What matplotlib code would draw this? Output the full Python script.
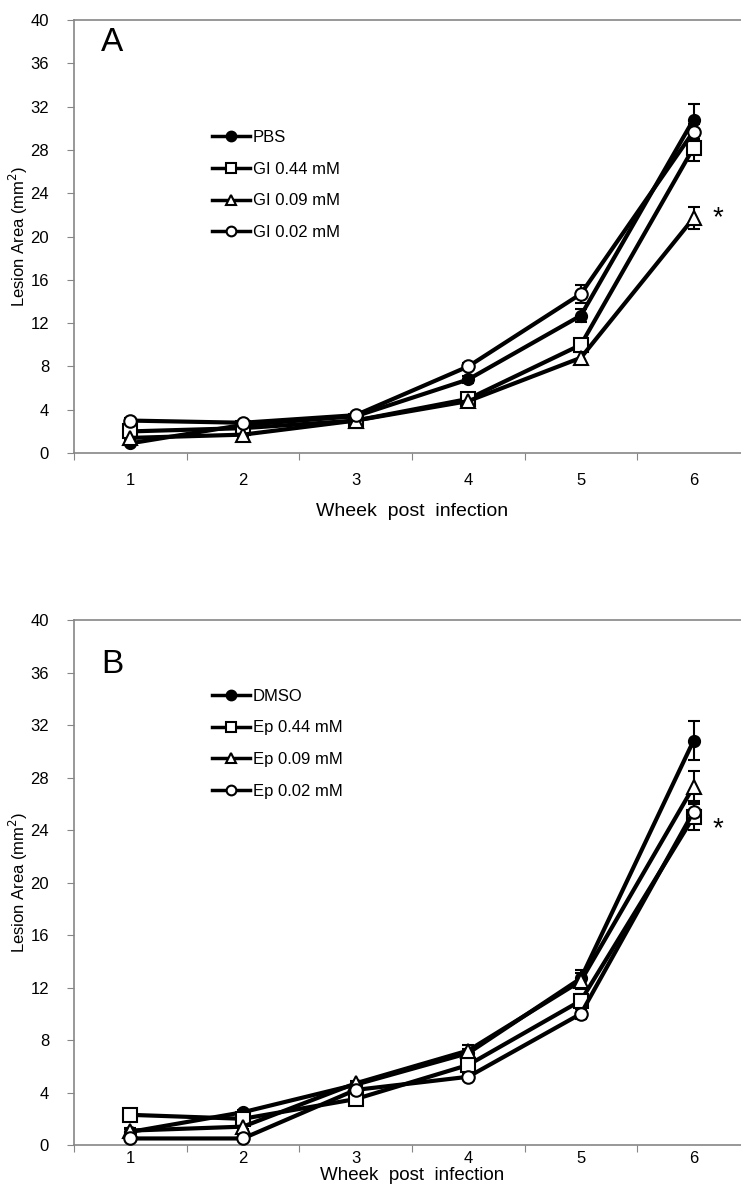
from matplotlib import pyplot as plt

plt.rcParams['font.family'] = ['Liberation Sans', 'DejaVu Sans']

weeks = [1, 2, 3, 4, 5, 6]

# panel A
a_names = ['PBS', 'GI 0.44 mM', 'GI 0.09 mM', 'GI 0.02 mM']
a_pbs = [0.9, 2.6, 3.4, 6.8, 12.7, 30.8]
a_pbs_err = [0.2, 0.2, 0.2, 0.3, 0.6, 1.4]
a_gi044 = [2.0, 2.3, 3.0, 5.0, 10.0, 28.2]
a_gi044_err = [0.2, 0.2, 0.2, 0.3, 0.5, 1.2]
a_gi009 = [1.4, 1.7, 3.0, 4.8, 8.8, 21.7]
a_gi009_err = [0.2, 0.2, 0.2, 0.3, 0.5, 1.0]
a_gi002 = [3.0, 2.8, 3.5, 8.0, 14.7, 29.7]
a_gi002_err = [0.2, 0.2, 0.2, 0.3, 0.8, 0.7]

# panel B
b_names = ['DMSO', 'Ep 0.44 mM', 'Ep 0.09 mM', 'Ep 0.02 mM']
b_dmso = [1.0, 2.5, 4.6, 7.0, 12.7, 30.8]
b_dmso_err = [0.2, 0.2, 0.2, 0.3, 0.6, 1.5]
b_ep044 = [2.3, 2.0, 3.5, 6.1, 11.0, 25.0]
b_ep044_err = [0.2, 0.2, 0.2, 0.3, 0.5, 1.0]
b_ep009 = [1.1, 1.4, 4.7, 7.2, 12.5, 27.3]
b_ep009_err = [0.2, 0.2, 0.2, 0.4, 0.6, 1.2]
b_ep002 = [0.5, 0.5, 4.2, 5.2, 10.0, 25.4]
b_ep002_err = [0.1, 0.1, 0.2, 0.2, 0.4, 0.8]

yticks = [0, 4, 8, 12, 16, 20, 24, 28, 32, 36, 40]

styles = [('o', 'black'), ('s', 'white'), ('^', 'white'), ('o', 'white')]
msizes = [8, 10, 10, 9]


def draw_panel(ax, series, errs, names, letter, letter_y, star_y, leg_y,
               tick_pad, title_pad, title_size):
    handles = []
    for i in range(len(series)):
        mk, fc = styles[i]
        ax.errorbar(weeks, series[i], yerr=errs[i], fmt='none', ecolor='black',
                    elinewidth=1.5, capsize=4, capthick=1.5, zorder=2)
        line, = ax.plot(weeks, series[i], color='black', lw=3, marker=mk,
                        ms=msizes[i], mfc=fc, mec='black', mew=1.5, zorder=3)
        handles.append(line)

    ax.set_xlim(0.5, 6.5)
    ax.set_ylim(0, 40)
    ax.set_yticks(yticks)
    # category axis: tick marks between weeks, labels on the weeks
    ax.set_xticks([0.5, 1.5, 2.5, 3.5, 4.5, 5.5, 6.5])
    ax.set_xticklabels([])
    ax.set_xticks(weeks, minor=True)
    ax.set_xticklabels([str(w) for w in weeks], minor=True)
    ax.tick_params(axis='x', which='minor', length=0, labelsize=12, pad=tick_pad)
    ax.tick_params(axis='x', which='major', length=5, color='#868686', direction='out')
    ax.tick_params(axis='y', length=5, color='#868686', labelsize=12,
                   direction='out', pad=13)
    for s in ['left', 'bottom', 'top', 'right']:
        ax.spines[s].set_color('#868686')
        ax.spines[s].set_linewidth(1.2)

    ax.set_xlabel('Wheek  post  infection', fontsize=title_size, labelpad=title_pad)
    ax.set_ylabel('Lesion Area (mm$^2$)', fontsize=12, labelpad=0)

    ax.text(0.04, letter_y, letter, transform=ax.transAxes, fontsize=24,
            va='top', ha='left')
    ax.text(6.22, star_y, '*', fontsize=20, ha='center', va='center')

    leg = ax.legend(handles, names, loc='upper left', bbox_to_anchor=(0.204, leg_y),
                    frameon=False, fontsize=12, handlelength=2.3, handletextpad=0.15,
                    labelspacing=1.0, borderaxespad=0, borderpad=0)
    for h in leg.legend_handles:
        h.set_markersize(7)
        h.set_linewidth(2.5)


fig = plt.figure(figsize=(7.41, 11.91), dpi=100)
ax_a = fig.add_axes([0.0999, 0.6196, 0.912, 0.3636])
ax_b = fig.add_axes([0.0999, 0.0386, 0.912, 0.4408])

draw_panel(ax_a, [a_pbs, a_gi044, a_gi009, a_gi002],
           [a_pbs_err, a_gi044_err, a_gi009_err, a_gi002_err], a_names,
           'A', 0.985, 21.7, 0.746, 14, 11, 14)
draw_panel(ax_b, [b_dmso, b_ep044, b_ep009, b_ep002],
           [b_dmso_err, b_ep044_err, b_ep009_err, b_ep002_err], b_names,
           'B', 0.944, 24.1, 0.869, 4, 1, 13.5)

plt.savefig('out.png', dpi=100)
